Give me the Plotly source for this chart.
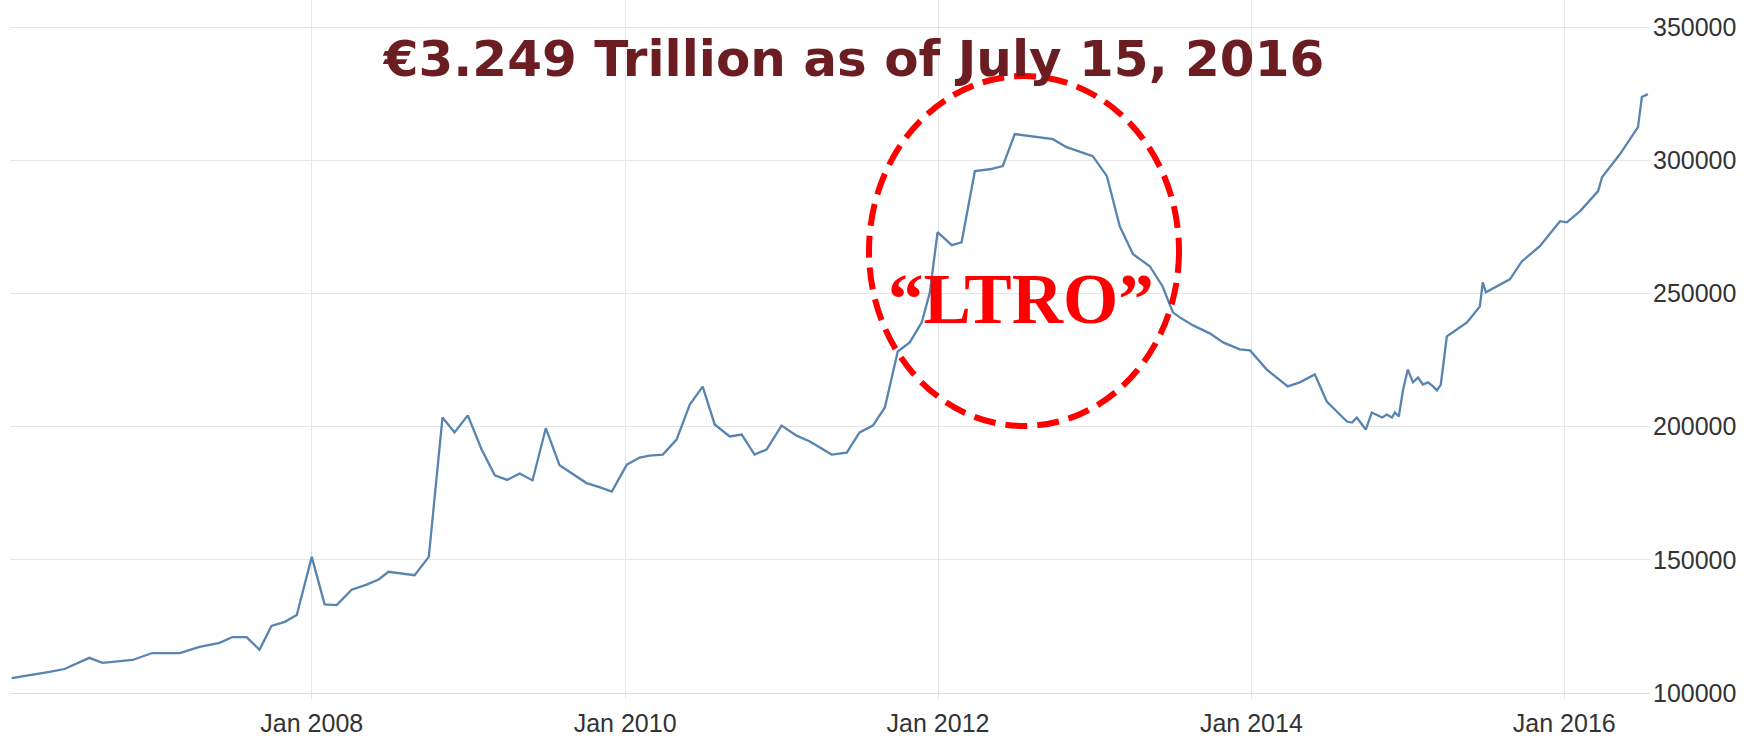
import plotly.graph_objects as go

# ---- data ----
dates = [
    "2006-01-31", "2006-03-21", "2006-04-29", "2006-06-03", "2006-07-08", "2006-07-31",
    "2006-08-31", "2006-11-09", "2006-12-25", "2007-02-27", "2007-04-14", "2007-05-31",
    "2007-06-30", "2007-08-02", "2007-09-01", "2007-09-29", "2007-10-30", "2007-11-27",
    "2008-01-01", "2008-01-31", "2008-02-28", "2008-04-03", "2008-05-08", "2008-06-05",
    "2008-06-28", "2008-07-29", "2008-08-28", "2008-09-30", "2008-11-01", "2008-11-29",
    "2008-12-30", "2009-01-31", "2009-03-03", "2009-04-01", "2009-04-30", "2009-05-30",
    "2009-06-30", "2009-08-01", "2009-10-03", "2009-11-02", "2009-12-01", "2010-01-05",
    "2010-02-04", "2010-02-27", "2010-03-30", "2010-05-01", "2010-06-01", "2010-07-01",
    "2010-07-29", "2010-09-02", "2010-09-30", "2010-10-30", "2010-11-27", "2011-01-01",
    "2011-02-05", "2011-03-08", "2011-04-28", "2011-06-02", "2011-07-02", "2011-08-02",
    "2011-08-30", "2011-09-29", "2011-10-27", "2011-11-24", "2011-12-13", "2011-12-31",
    "2012-02-02", "2012-02-25", "2012-03-27", "2012-05-01", "2012-05-31", "2012-06-28",
    "2012-08-18", "2012-09-25", "2012-10-27", "2012-12-27", "2013-01-29", "2013-02-28",
    "2013-03-31", "2013-05-09", "2013-06-08", "2013-07-02", "2013-07-18", "2013-08-18",
    "2013-09-26", "2013-10-27", "2013-12-05", "2013-12-29", "2014-02-06", "2014-03-02",
    "2014-03-27", "2014-04-24", "2014-05-29", "2014-06-26", "2014-07-20", "2014-08-12",
    "2014-08-24", "2014-09-04", "2014-09-16", "2014-09-25", "2014-10-09", "2014-10-21",
    "2014-11-02", "2014-11-13", "2014-11-25", "2014-12-02", "2014-12-11", "2014-12-21",
    "2015-01-01", "2015-01-13", "2015-01-25", "2015-02-05", "2015-02-17", "2015-03-01",
    "2015-03-10", "2015-03-19", "2015-04-02", "2015-04-16", "2015-05-19", "2015-06-18",
    "2015-06-25", "2015-07-02", "2015-07-28", "2015-08-27", "2015-09-24", "2015-11-05",
    "2015-12-22", "2016-01-07", "2016-02-07", "2016-03-20", "2016-03-29", "2016-05-10",
    "2016-06-21", "2016-06-30", "2016-07-14",
]
values = [
    105600, 106800, 107900, 109000, 111700, 113200,
    111300, 112400, 115000, 115000, 117300, 118800,
    121000, 121000, 116200, 125200, 126700, 129300,
    151100, 133300, 133000, 138800, 140700, 142600,
    145500, 144800, 144200, 151100, 203400, 197800,
    204200, 191500, 181700, 180000, 182400, 179800,
    199400, 185500, 178800, 177300, 175600, 185700,
    188400, 189100, 189500, 195100, 208300, 215000,
    200800, 196300, 197000, 189500, 191400, 200400,
    196600, 194400, 189500, 190200, 197800, 200400,
    207200, 228200, 231600, 239100, 250400, 273000,
    268100, 269200, 295900, 296600, 297800, 309800,
    308700, 307900, 304900, 301500, 294000, 275200,
    264700, 260200, 252600, 242900, 241000, 238000,
    235000, 231600, 229000, 228600, 221400, 218400,
    215100, 216600, 219600, 209400, 205700, 201900,
    201500, 203400, 200800, 198900, 205300, 204500,
    203400, 204500, 203400, 205300, 203800, 213900,
    221400, 216600, 218400, 215800, 216600, 215100,
    213600, 215800, 233900, 235400, 239100, 245100,
    254200, 250400, 252600, 255300, 262000, 267700,
    277100, 276700, 280900, 288400, 293600, 302300,
    312400, 323700, 324800,
]
x_tick_vals = ["2008-01-01", "2010-01-01", "2012-01-01", "2014-01-01", "2016-01-01"]
x_tick_text = ["Jan 2008", "Jan 2010", "Jan 2012", "Jan 2014", "Jan 2016"]
y_tick_vals = [100000, 150000, 200000, 250000, 300000, 350000]

title_text = "€3.249 Trillion as of July 15, 2016"
note_text = "“LTRO”"

W, H = 1747, 736
L, R, T, B = 10, 97, 0, 43

fig = go.Figure()
fig.add_trace(go.Scatter(
    x=dates, y=values, mode="lines",
    line=dict(color="#5884b0", width=2.3),
    hoverinfo="x+y", showlegend=False,
))

grid = "#e6e6e6"
fig.update_layout(
    width=W, height=H,
    margin=dict(l=L, r=R, t=T, b=B),
    paper_bgcolor="white", plot_bgcolor="white",
    title=dict(
        text=title_text, x=854 / W, y=1 - 58 / H, xanchor="center", yanchor="middle",
        font=dict(family="DejaVu Sans", size=50, color="#6b1d22", weight="bold"),
    ),
    xaxis=dict(
        type="date", range=["2006-01-27", "2016-07-19"],
        tickvals=x_tick_vals, ticktext=x_tick_text,
        showgrid=True, gridcolor=grid, gridwidth=1,
        showline=True, linecolor="#dedede", linewidth=1,
        ticks="outside", ticklen=5, tickcolor=grid, ticklabelstandoff=3,
        tickfont=dict(family="Liberation Sans", size=25, color="#333333"),
        zeroline=False,
    ),
    yaxis=dict(
        side="right", range=[100000, 360135],
        tickvals=y_tick_vals, tickformat="d",
        showgrid=True, gridcolor=grid, gridwidth=1,
        ticks="", ticklabelstandoff=2,
        tickfont=dict(family="Liberation Sans", size=25, color="#333333"),
        zeroline=False, showline=False,
    ),
)

pw = W - L - R
ph = H - T - B
def px(xp):
    return (xp - L) / pw
def py(yp):
    return (H - B - yp) / ph

fig.add_shape(
    type="circle", xref="paper", yref="paper",
    x0=px(869), x1=px(1179), y0=py(426), y1=py(76),
    line=dict(color="#ff0000", width=6, dash="22px,10px"),
    fillcolor="rgba(0,0,0,0)", layer="above",
)
fig.add_annotation(
    text=note_text, xref="paper", yref="paper", x=px(1021), y=py(299),
    xanchor="center", yanchor="middle", showarrow=False,
    font=dict(family="Liberation Serif", size=71, color="#ff0000", weight="bold"),
)

fig.write_html("out.html")
